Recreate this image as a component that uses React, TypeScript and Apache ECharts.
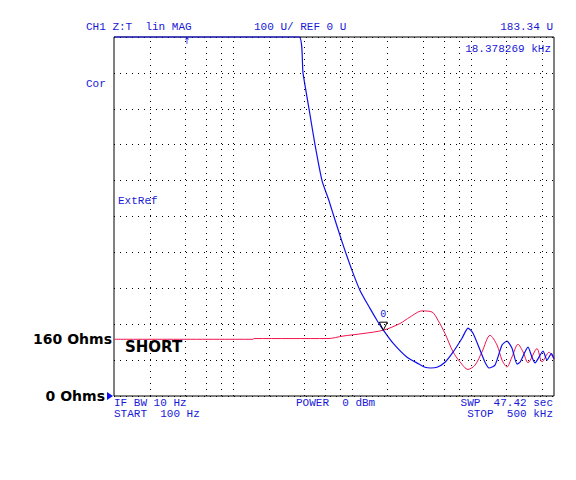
import React, { useEffect, useRef } from "react";
import * as echarts from "echarts";

// Frequency (Hz) and impedance magnitude (Ohms, "U")
const blueFreq = [100, 3592, 3880, 4360, 4895, 5606, 6419, 6803, 7943, 8750, 10019, 11695, 14190, 16570, 18378, 22160, 29060, 36660, 41160, 46000, 51930, 60640, 70790, 84270, 94620, 104300, 119400, 131500, 142100, 159600, 182800, 201300, 221800, 244400, 259000, 302400, 326600, 346200, 404300, 436800, 475000, 500000];
const blueVals = [1000, 1000, 900, 800, 700, 600, 544, 517, 447, 405, 350, 294, 244, 206, 183.34, 147, 108, 89, 80, 78, 80, 94, 122, 161, 189, 175, 128, 94, 78, 86, 142, 153, 133, 89, 94, 136, 108, 92, 125, 100, 118, 104];

const redFreq = [100, 1474, 1500, 6296, 8418, 12400, 18378, 25380, 30800, 38850, 47140, 52940, 60640, 70790, 81070, 94620, 108400, 124100, 144900, 165900, 182800, 201300, 221800, 249200, 274400, 302400, 359800, 396300, 455000, 500000];
const redVals = [158, 158, 160, 160, 167, 174, 183.34, 202, 220, 237, 234, 211, 174, 123, 95, 74, 86, 123, 169, 142, 100, 81, 109, 144, 123, 93, 132, 95, 122, 102];

// Log grid lines (2,4,6,8,10 per decade)
const gridFreqs = [200, 400, 600, 800, 1000, 2000, 4000, 6000, 8000, 10000, 20000, 40000, 60000, 80000, 100000, 200000, 400000];
const yLabelValues = [0, 160];

const markerFreq = 18378.269;
const markerVal = 183.34;
const stimArrowFreq = 411;

const BLUE_TEXT = "#1818d8";
const BLUE_TRACE = "#1010ee";
const RED_TRACE = "#f0124e";
const MONO = "'Liberation Mono', 'DejaVu Sans Mono', monospace";

export default function App() {
  const ref = useRef<HTMLDivElement>(null);
  useEffect(() => {
    if (!ref.current) return;
    const chart = echarts.init(ref.current, null, { renderer: "svg" });
    const dotted = { color: "#000", type: [1, 5], width: 1 };
    const monoText = (text: string, x: number, y: number, align: string = "left") => ({
      type: "text",
      x,
      y,
      silent: true,
      style: {
        text,
        fill: BLUE_TEXT,
        font: `11px ${MONO}`,
        lineHeight: 10,
        textAlign: align,
        textVerticalAlign: "middle",
      },
    });
    chart.setOption({
      animation: false,
      backgroundColor: "#fff",
      grid: {
        left: 114,
        top: 37,
        width: 440,
        height: 359,
        show: true,
        borderColor: "#000",
        borderWidth: 1,
        backgroundColor: "transparent",
      },
      xAxis: {
        type: "log",
        logBase: 10,
        min: 100,
        max: 500000,
        axisLine: { show: false },
        axisTick: { show: false },
        axisLabel: { show: false },
        splitLine: { show: false },
      },
      yAxis: {
        type: "value",
        min: 0,
        max: 1000,
        interval: 100,
        axisLine: { show: false },
        axisTick: { show: false },
        splitLine: { show: true, lineStyle: dotted },
        axisLabel: {
          customValues: yLabelValues,
          margin: 2,
          color: "#000",
          fontFamily: "'DejaVu Sans', sans-serif",
          fontWeight: "bold",
          fontSize: 14,
          formatter: (v: number) => (v === 0 ? `{z|${v} Ohms}` : `{a|${v} Ohms}`),
          rich: {
            a: { color: "#000", fontFamily: "'DejaVu Sans', sans-serif", fontWeight: "bold", fontSize: 14 },
            z: { color: "#000", fontFamily: "'DejaVu Sans', sans-serif", fontWeight: "bold", fontSize: 14, padding: [0, 7, 0, 0] },
          },
        },
      },
      series: [
        {
          type: "line",
          name: "red",
          data: redFreq.map((f, i) => [f, redVals[i]]),
          showSymbol: false,
          symbol: "none",
          smooth: 0.3,
          clip: true,
          lineStyle: { color: RED_TRACE, width: 1 },
          z: 3,
          markLine: {
            silent: true,
            symbol: ["none", "none"],
            label: { show: false },
            lineStyle: dotted,
            data: gridFreqs.map((f) => ({ xAxis: f })),
          },
        },
        {
          type: "line",
          name: "blue",
          data: blueFreq.map((f, i) => [f, blueVals[i]]),
          showSymbol: false,
          symbol: "none",
          smooth: 0.2,
          clip: false,
          lineStyle: { color: BLUE_TRACE, width: 1.2 },
          z: 4,
          markPoint: {
            silent: true,
            data: [
              {
                coord: [markerFreq, markerVal],
                symbol: "triangle",
                symbolRotate: 180,
                symbolSize: [8, 8],
                symbolOffset: [0, -4],
                itemStyle: { color: "rgba(0,0,0,0)", borderColor: "#000", borderWidth: 1 },
                label: {
                  show: true,
                  formatter: "0",
                  position: "top",
                  distance: 2,
                  color: BLUE_TEXT,
                  fontFamily: MONO,
                  fontSize: 10,
                },
              },
              {
                coord: [100, 0],
                symbol: "triangle",
                symbolRotate: -90,
                symbolSize: [8, 6],
                symbolOffset: [-4, 0],
                itemStyle: { color: BLUE_TRACE, borderWidth: 0 },
                label: { show: false },
              },
              {
                coord: [stimArrowFreq, 1000],
                symbol: "circle",
                symbolSize: 1,
                itemStyle: { color: "rgba(0,0,0,0)" },
                label: {
                  show: true,
                  formatter: "↑",
                  position: "inside",
                  offset: [0, 4],
                  color: BLUE_TEXT,
                  fontFamily: "'DejaVu Sans', sans-serif",
                  fontSize: 9,
                },
              },
            ],
          },
        },
      ],
      graphic: [
        monoText("CH1 Z:T  lin MAG", 86, 27),
        monoText("100 U/ REF 0 U", 254, 27),
        monoText("183.34 U", 553, 27, "right"),
        monoText("18.378269 kHz", 551, 49, "right"),
        monoText("Cor", 86, 84),
        monoText("ExtRef", 118, 201),
        monoText("IF BW 10 Hz", 114, 402.5),
        monoText("START  100 Hz", 114, 413.5),
        monoText("POWER  0 dBm", 296, 402.5),
        monoText("SWP  47.42 sec", 553, 402.5, "right"),
        monoText("STOP  500 kHz", 553, 413.5, "right"),
        {
          type: "text",
          x: 125,
          y: 347,
          silent: true,
          style: {
            text: "SHORT",
            fill: "#000",
            font: "bold 15px 'DejaVu Sans', sans-serif",
            textAlign: "left",
            textVerticalAlign: "middle",
          },
        },
      ],
    });
    return () => chart.dispose();
  }, []);
  return (
    <div
      ref={ref}
      style={{ position: "absolute", left: 0, top: 0, width: 576, height: 480 }}
    />
  );
}
